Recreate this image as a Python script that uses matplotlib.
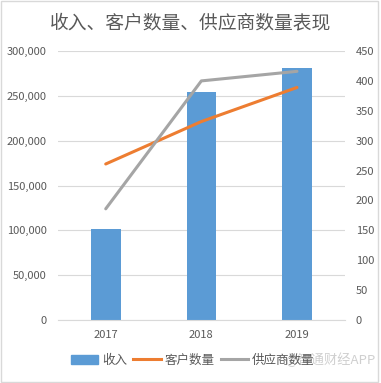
import numpy as np
import matplotlib.pyplot as plt
from matplotlib.patches import Patch, Rectangle
from matplotlib.lines import Line2D
from matplotlib.ticker import FuncFormatter

plt.rcParams['font.family'] = ['Noto Sans CJK SC', 'DejaVu Sans']

############################################### data
years = ['2017', '2018', '2019']
revenue = [102000, 254500, 281000]
customers = [261, 332, 389]
suppliers = [186, 400, 416]
left_ticks = [0, 50000, 100000, 150000, 200000, 250000, 300000]
right_ticks = [0, 50, 100, 150, 200, 250, 300, 350, 400, 450]

grey = '#595959'
fig = plt.figure(figsize=(3.81, 3.83), dpi=100)
ax = fig.add_axes([0.152, 0.1645, 0.753, 0.7023])
x = np.arange(len(years))

ax.bar(x, revenue, width=0.31, color='#5B9BD5', zorder=2)
ax.set_ylim(0, 300000)
ax.set_xlim(-0.5, 2.5)
ax.set_yticks(left_ticks)
ax.yaxis.set_major_formatter(FuncFormatter(lambda v, p: f'{int(v):,}'))
ax.grid(axis='y', color='#D9D9D9', lw=0.8, zorder=0)
ax.set_xticks(x)
ax.set_xticklabels(years)
for s in ['top', 'left', 'right']:
    ax.spines[s].set_visible(False)
ax.spines['bottom'].set_color('#D9D9D9')
ax.tick_params(length=0, labelsize=8, colors=grey, pad=8)
ax.tick_params(axis='x', pad=7)

ax2 = ax.twinx()
ax2.plot(x, customers, color='#ED7D31', lw=2.2, solid_capstyle='round', zorder=3)
ax2.plot(x, suppliers, color='#A5A5A5', lw=2.2, solid_capstyle='round', zorder=3)
ax2.set_ylim(0, 450)
ax2.set_yticks(right_ticks)
for s in ['top', 'left', 'right', 'bottom']:
    ax2.spines[s].set_visible(False)
ax2.tick_params(length=0, labelsize=8, colors=grey, pad=8)

fig.text(0.5, 0.94, '收入、客户数量、供应商数量表现', ha='center', va='center',
         fontsize=13.5, color=grey)

handles = [Patch(color='#5B9BD5'),
           Line2D([], [], color='#ED7D31', lw=2.2),
           Line2D([], [], color='#A5A5A5', lw=2.2)]
fig.legend(handles, ['收入', '客户数量', '供应商数量'], loc='center',
           bbox_to_anchor=(0.505, 0.06), ncol=3, frameon=False, fontsize=9,
           handlelength=2.2, handletextpad=0.3, columnspacing=0.5,
           labelcolor=grey)

fig.text(0.985, 0.06, '@智通财经APP', ha='right', va='center', fontsize=9.5,
         color='#BBBBBB', alpha=0.7)

fig.patches.append(Rectangle((0.002, 0.002), 0.99, 0.995, transform=fig.transFigure,
                             fill=False, edgecolor='#D9D9D9', lw=1))

fig.savefig('out.png', dpi=100)
